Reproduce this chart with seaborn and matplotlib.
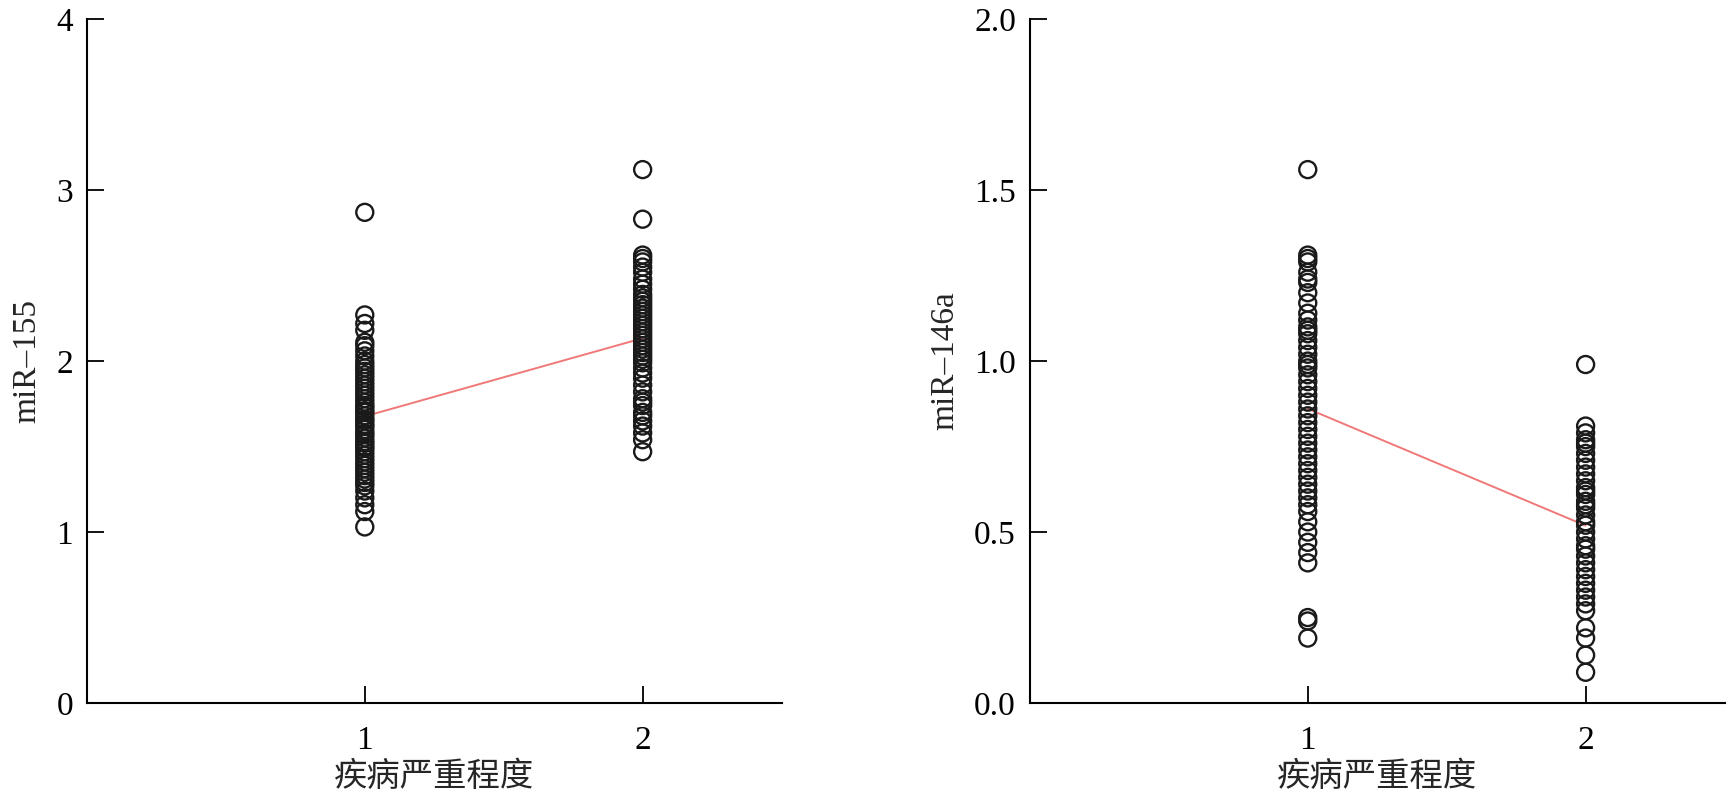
import pandas as pd
import seaborn as sns
import matplotlib.pyplot as plt

# miR-155 values per disease severity group
mir155_g1 = [1.03, 1.12, 1.16, 1.20, 1.24, 1.27, 1.29, 1.31, 1.33, 1.35, 1.37, 1.39,
             1.41, 1.43, 1.45, 1.47, 1.49, 1.50, 1.52, 1.53, 1.55, 1.57, 1.58, 1.60,
             1.62, 1.63, 1.65, 1.66, 1.68, 1.70, 1.71, 1.73, 1.74, 1.76, 1.78, 1.80,
             1.82, 1.84, 1.86, 1.88, 1.90, 1.92, 1.94, 1.96, 1.98, 2.00, 2.03, 2.06,
             2.09, 2.11, 2.18, 2.22, 2.27, 2.87]
mir155_g2 = [1.47, 1.54, 1.58, 1.62, 1.65, 1.68, 1.70, 1.74, 1.76, 1.78, 1.82, 1.86,
             1.90, 1.93, 1.96, 1.99, 2.01, 2.03, 2.05, 2.07, 2.09, 2.11, 2.13, 2.15,
             2.17, 2.19, 2.21, 2.23, 2.25, 2.27, 2.29, 2.31, 2.33, 2.35, 2.37, 2.39,
             2.42, 2.45, 2.48, 2.52, 2.55, 2.58, 2.60, 2.62, 2.83, 3.12]

# miR-146a values per disease severity group
mir146a_g1 = [0.19, 0.24, 0.25, 0.41, 0.44, 0.47, 0.50, 0.53, 0.56, 0.58, 0.60, 0.62,
              0.64, 0.66, 0.68, 0.70, 0.72, 0.74, 0.76, 0.78, 0.80, 0.82, 0.84, 0.86,
              0.88, 0.90, 0.92, 0.94, 0.96, 0.98, 0.99, 1.00, 1.02, 1.04, 1.06, 1.08,
              1.09, 1.10, 1.12, 1.14, 1.17, 1.20, 1.23, 1.24, 1.26, 1.29, 1.30, 1.31, 1.56]
mir146a_g2 = [0.09, 0.14, 0.19, 0.22, 0.27, 0.29, 0.31, 0.33, 0.35, 0.37, 0.39, 0.41,
              0.43, 0.45, 0.46, 0.48, 0.50, 0.52, 0.53, 0.55, 0.57, 0.58, 0.59, 0.61,
              0.62, 0.63, 0.65, 0.67, 0.69, 0.71, 0.73, 0.75, 0.76, 0.77, 0.79, 0.81, 0.99]

panels = [
    ('miR–155', mir155_g1, mir155_g2, (0, 4), [0, 1, 2, 3, 4], ['0', '1', '2', '3', '4']),
    ('miR–146a', mir146a_g1, mir146a_g2, (0, 2), [0, 0.5, 1.0, 1.5, 2.0],
     ['0.0', '0.5', '1.0', '1.5', '2.0']),
]
xlabel = '疾病严重程度'

sns.set_style('white')
plt.rcParams['font.family'] = ['Liberation Serif', 'Noto Sans CJK SC', 'DejaVu Sans']

fig = plt.figure(figsize=(17.28, 7.98), dpi=100)
positions = [[0.0503, 0.119, 0.402, 0.857], [0.596, 0.119, 0.402, 0.857]]

for pos, (name, g1, g2, ylim, yticks, ylabels) in zip(positions, panels):
    ax = fig.add_axes(pos)
    df = pd.DataFrame({'sev': [1] * len(g1) + [2] * len(g2), 'val': g1 + g2})
    sns.lineplot(data=df, x='sev', y='val', estimator='mean', errorbar=None,
                 color='#f07878', linewidth=1.4, ax=ax, zorder=1)
    sns.scatterplot(data=df, x='sev', y='val', ax=ax, s=150, marker='o',
                    facecolor='none', edgecolor='#1a1a1a', linewidth=1.7, zorder=2)
    ax.set_xlim(0, 2.5)
    ax.set_ylim(*ylim)
    ax.set_xticks([1, 2])
    ax.set_xticklabels(['1', '2'])
    ax.set_yticks(yticks)
    ax.set_yticklabels(ylabels)
    for s in ['top', 'right']:
        ax.spines[s].set_visible(False)
    for s in ['left', 'bottom']:
        ax.spines[s].set_color('black')
        ax.spines[s].set_linewidth(1.5)
    ax.tick_params(axis='both', direction='in', length=12, width=1.3,
                   labelsize=24, colors='black', bottom=True, left=True)
    ax.tick_params(axis='x', pad=16)
    ax.tick_params(axis='y', pad=10)
    ax.set_xlabel(xlabel, fontsize=24, family=['Noto Sans CJK SC'], labelpad=2)
    ax.set_ylabel(name, fontsize=24, labelpad=10)

plt.savefig('out.png', dpi=100)
